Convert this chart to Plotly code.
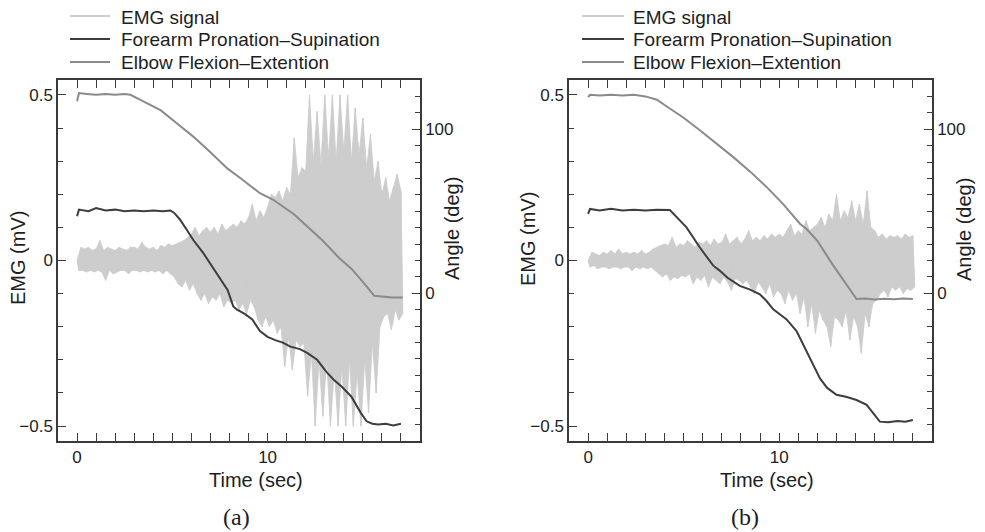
import plotly.graph_objects as go

# ---------------- data ----------------
EMG_DT = 0.1  # sampling step of the listed EMG peaks (s)

# Panel (a) EMG peaks, mV (alternating positive / negative excursions)
emg_a = [
    0.0, -0.03, 0.04, -0.03, 0.035, -0.035, 0.04, -0.03, 0.03, -0.035,
    0.035, -0.03, 0.06, -0.035, 0.03, -0.06, 0.04, -0.03, 0.035, -0.04,
    0.03, -0.035, 0.04, -0.03, 0.035, -0.03, 0.03, -0.04, 0.04, -0.03,
    0.04, -0.03, 0.035, -0.035, 0.055, -0.03, 0.04, -0.035, 0.035, -0.03,
    0.04, -0.035, 0.03, -0.03, 0.045, -0.04, 0.04, -0.03, 0.05, -0.04,
    0.045, -0.05, 0.05, -0.07, 0.055, -0.08, 0.06, -0.06, 0.07, -0.09,
    0.08, -0.07, 0.1, -0.1, 0.075, -0.12, 0.09, -0.1, 0.1, -0.13,
    0.085, -0.11, 0.1, -0.12, 0.08, -0.1, 0.11, -0.14, 0.09, -0.12,
    0.1, -0.13, 0.11, -0.12, 0.1, -0.15, 0.12, -0.13, 0.11, -0.16,
    0.13, -0.12, 0.17, -0.14, 0.12, -0.18, 0.15, -0.2, 0.13, -0.17,
    0.16, -0.2, 0.2, -0.18, 0.19, -0.22, 0.21, -0.2, 0.18, -0.32,
    0.22, -0.23, 0.2, -0.33, 0.37, -0.24, 0.25, -0.26, 0.28, -0.25,
    0.27, -0.41, 0.5, -0.28, 0.3, -0.5, 0.45, -0.3, 0.29, -0.47,
    0.5, -0.3, 0.31, -0.5, 0.5, -0.33, 0.3, -0.5, 0.5, -0.32,
    0.33, -0.5, 0.5, -0.3, 0.3, -0.5, 0.46, -0.34, 0.32, -0.5,
    0.43, -0.3, 0.28, -0.46, 0.38, -0.25, 0.24, -0.4, 0.3, -0.2,
    0.2, -0.17, 0.25, -0.16, 0.18, -0.21, 0.22, -0.15, 0.26, -0.18,
    0.21, -0.16,
]

# Panel (b) EMG peaks, mV
emg_b = [
    0.0, -0.02, 0.025, -0.015, 0.02, -0.025, 0.015, -0.02, 0.025, -0.02,
    0.02, -0.025, 0.03, -0.02, 0.02, -0.02, 0.035, -0.025, 0.02, -0.02,
    0.025, -0.02, 0.02, -0.03, 0.025, -0.02, 0.02, -0.025, 0.03, -0.02,
    0.02, -0.025, 0.025, -0.02, 0.035, -0.03, 0.04, -0.04, 0.045, -0.05,
    0.05, -0.04, 0.045, -0.06, 0.07, -0.05, 0.04, -0.055, 0.05, -0.045,
    0.045, -0.05, 0.06, -0.04, 0.05, -0.07, 0.04, -0.05, 0.055, -0.06,
    0.05, -0.045, 0.06, -0.08, 0.045, -0.05, 0.065, -0.06, 0.05, -0.07,
    0.055, -0.05, 0.08, -0.065, 0.05, -0.09, 0.06, -0.055, 0.07, -0.06,
    0.05, -0.07, 0.065, -0.06, 0.09, -0.08, 0.06, -0.1, 0.07, -0.065,
    0.06, -0.08, 0.075, -0.1, 0.065, -0.07, 0.08, -0.11, 0.07, -0.09,
    0.08, -0.1, 0.07, -0.13, 0.09, -0.09, 0.11, -0.12, 0.075, -0.1,
    0.09, -0.16, 0.08, -0.11, 0.12, -0.2, 0.09, -0.13, 0.1, -0.22,
    0.11, -0.15, 0.13, -0.18, 0.1, -0.2, 0.14, -0.26, 0.12, -0.17,
    0.2, -0.18, 0.12, -0.2, 0.15, -0.15, 0.13, -0.24, 0.18, -0.17,
    0.12, -0.2, 0.17, -0.28, 0.11, -0.16, 0.21, -0.2, 0.1, -0.13,
    0.09, -0.12, 0.07, -0.1, 0.08, -0.09, 0.065, -0.11, 0.075, -0.08,
    0.07, -0.09, 0.075, -0.08, 0.065, -0.1, 0.08, -0.085, 0.07, -0.09,
    0.075, -0.08,
]

# Panel (a) joint angles (deg)
fore_a_t = [0.0, 0.1, 0.6, 1.0, 1.5, 2.0, 2.5, 3.0, 3.5, 4.0, 4.5, 4.9, 5.1, 5.4,
            5.8, 6.1, 6.6, 7.2, 7.9, 8.2, 8.4, 8.8, 9.2, 9.6, 10.0, 10.4, 10.8,
            11.2, 11.7, 12.1, 12.6, 13.1, 13.5, 13.9, 14.4, 14.9, 15.2, 15.5,
            15.8, 16.2, 16.6, 17.0]
fore_a = [47, 51, 50, 52, 50.5, 51, 50, 50.5, 50, 50.5, 50, 50.5, 49, 45,
          38, 32.5, 25, 14, 2, -8, -10, -12.5, -16, -23, -26.5, -28.5, -30,
          -32.5, -34, -36.5, -40.5, -48, -53, -57, -63, -73, -78, -79.5,
          -80, -79.5, -80.5, -79.5]

elb_a_t = [0.0, 0.1, 0.5, 1.0, 1.5, 2.0, 2.5, 2.8, 3.3, 3.8, 4.4, 5.2, 6.1, 7.0,
           7.9, 8.6, 9.6, 10.3, 11.4, 12.1, 12.9, 13.8, 14.4, 15.0, 15.6, 16.0,
           16.5, 17.1]
elb_a = [117, 122, 121.5, 121, 121.5, 121, 121.5, 121, 118, 115, 111.5, 104,
         95.5, 86, 76, 70, 61, 57, 48, 40.6, 32, 21, 15, 7, -1.5, -2, -2.5, -2.5]

# Panel (b) joint angles (deg)
fore_b_t = [0.0, 0.1, 0.6, 1.2, 1.8, 2.4, 3.0, 3.6, 4.28, 4.6, 5.15, 5.85, 6.54,
            6.9, 7.3, 7.94, 8.45, 8.99, 9.34, 9.69, 10.39, 10.91, 11.43, 11.78,
            12.13, 12.5, 13.0, 13.5, 14.05, 14.58, 14.9, 15.27, 15.7, 16.2,
            16.6, 17.0]
fore_b = [48.4, 51.4, 50.5, 51.5, 50.5, 51, 50.5, 51, 50.8, 47, 40.2, 27.9, 17,
          13.7, 9.5, 4.5, 2.4, -0.6, -4.7, -9.8, -15.9, -23, -35.3, -43, -51.7,
          -57.5, -61.8, -63, -65, -68, -73, -78.2, -78.5, -77.8, -78.3, -77.2]

elb_b_t = [0.0, 0.1, 0.6, 1.2, 1.8, 2.4, 3.0, 3.6, 4.1, 5.0, 5.85, 6.7, 7.6, 8.5,
           9.35, 10.2, 11.1, 11.45, 12.0, 12.8, 13.5, 14.05, 14.5, 15.0, 15.5,
           16.0, 16.5, 17.0]
elb_b = [119.5, 121, 120.5, 121, 120.5, 121, 120, 118, 114, 107, 99.4, 91.5, 83,
         74, 64.7, 54.5, 42.3, 39, 32, 17.5, 6, -3.5, -3.2, -3.8, -3.3, -3.6,
         -3.2, -3.5]

SERIES = ["EMG signal", "Forearm Pronation\u2013Supination", "Elbow Flexion\u2013Extention"]
X_TICKS = [0, 10]
EMG_TICKS = [-0.5, 0, 0.5]
EMG_TICKTEXT = ["\u22120.5", "0", "0.5"]
ANG_TICKS = [0, 100]

# ---------------- styling ----------------
C_EMG = "#cdcdcd"
C_FORE = "#3d3d3d"
C_ELB = "#8a8a8a"
COLORS = [C_EMG, C_FORE, C_ELB]
AX = "#3a3a3a"
TXT = "#1e1e1e"
SANS = "Liberation Sans, Arial, sans-serif"
SERIF = "Liberation Serif, Times New Roman, serif"

OFF = 8            # page body margin of the browser
W, H = 985 - OFF, 532 - OFF
def px(xp):
    return (xp - OFF) / W
def py(yp):
    return 1 - (yp - OFF) / H

fig = go.Figure()

panels = [
    dict(emg=emg_a, ft=fore_a_t, f=fore_a, et=elb_a_t, e=elb_a,
         xa="x", ya="y", ya2="y2"),
    dict(emg=emg_b, ft=fore_b_t, f=fore_b, et=elb_b_t, e=elb_b,
         xa="x2", ya="y3", ya2="y4"),
]
for p in panels:
    t = [i * EMG_DT for i in range(len(p["emg"]))]
    # dense EMG burst: band between the positive and the negative excursions
    fig.add_trace(go.Scatter(x=t[0::2], y=p["emg"][0::2], mode="lines",
                             line=dict(color=C_EMG, width=0.8, simplify=False),
                             showlegend=False, hoverinfo="skip",
                             xaxis=p["xa"], yaxis=p["ya"]))
    fig.add_trace(go.Scatter(x=t[1::2], y=p["emg"][1::2], mode="lines",
                             line=dict(color=C_EMG, width=0.8, simplify=False),
                             fill="tonexty", fillcolor=C_EMG,
                             showlegend=False, hoverinfo="skip",
                             xaxis=p["xa"], yaxis=p["ya"]))
    fig.add_trace(go.Scatter(x=t, y=p["emg"], mode="lines", name=SERIES[0],
                             line=dict(color=C_EMG, width=1.0, simplify=False),
                             showlegend=False,
                             xaxis=p["xa"], yaxis=p["ya"]))
    fig.add_trace(go.Scatter(x=p["ft"], y=p["f"], mode="lines", name=SERIES[1],
                             line=dict(color=C_FORE, width=2), showlegend=False,
                             xaxis=p["xa"], yaxis=p["ya2"]))
    fig.add_trace(go.Scatter(x=p["et"], y=p["e"], mode="lines", name=SERIES[2],
                             line=dict(color=C_ELB, width=2), showlegend=False,
                             xaxis=p["xa"], yaxis=p["ya2"]))

tickfont = dict(family=SANS, size=17, color=TXT)

def xaxis(domain, anchor):
    return dict(domain=domain, anchor=anchor, range=[-1, 18],
                tickvals=X_TICKS, ticks="inside", ticklen=8, tickwidth=1.3,
                tickcolor=AX, showline=True, linecolor=AX, linewidth=1.5,
                mirror="allticks", showgrid=False, zeroline=False,
                tickfont=tickfont,
                minor=dict(dtick=1, ticks="inside", ticklen=5, tickwidth=1.2,
                           tickcolor=AX, showgrid=False))

def yaxis_left(domain, anchor):
    return dict(domain=domain, anchor=anchor, range=[-0.545, 0.545],
                tickvals=EMG_TICKS, ticktext=EMG_TICKTEXT, ticks="inside",
                ticklen=8, tickwidth=1.3, tickcolor=AX, showline=True,
                linecolor=AX, linewidth=1.5, mirror=False, showgrid=False,
                zeroline=False, tickfont=tickfont,
                minor=dict(dtick=0.1, tick0=0, ticks="inside", ticklen=5,
                           tickwidth=1.2, tickcolor=AX, showgrid=False))

def yaxis_right(overlay, anchor):
    return dict(overlaying=overlay, anchor=anchor, side="right",
                range=[-90, 130], tickvals=ANG_TICKS, ticks="inside",
                ticklen=8, tickwidth=1.3, tickcolor=AX, showline=True,
                linecolor=AX, linewidth=1.5, showgrid=False, zeroline=False,
                tickfont=tickfont,
                minor=dict(dtick=10, tick0=0, ticks="inside", ticklen=5,
                           tickwidth=1.2, tickcolor=AX, showgrid=False))

ydom = [py(441), py(80)]

fig.update_layout(
    width=W, height=H, autosize=False,
    margin=dict(l=0, r=0, t=0, b=0),
    paper_bgcolor="white", plot_bgcolor="white",
    showlegend=False,
    xaxis=xaxis([px(58), px(420)], "y"),
    yaxis=yaxis_left(ydom, "x"),
    yaxis2=yaxis_right("y", "x"),
    xaxis2=xaxis([px(569), px(932)], "y3"),
    yaxis3=yaxis_left(ydom, "x2"),
    yaxis4=yaxis_right("y3", "x2"),
)

ann = []
shapes = []
def add_text(text, x, y, size=20, angle=0, family=SANS, anchor="center"):
    ann.append(dict(text=text, x=px(x), y=py(y), xref="paper", yref="paper",
                    showarrow=False, xanchor=anchor, yanchor="middle",
                    textangle=angle, font=dict(family=family, size=size, color=TXT)))

# legends (one above each panel)
LEG_ROWS = [16, 39, 62]
for x0, x1, xt in [(70, 110, 123), (582, 624, 635)]:
    for name, col, yr in zip(SERIES, COLORS, LEG_ROWS):
        shapes.append(dict(type="line", xref="paper", yref="paper",
                           x0=px(x0), x1=px(x1), y0=py(yr), y1=py(yr),
                           line=dict(color=col, width=2)))
        add_text(name, xt - 4, yr + 1, size=19, anchor="left")

add_text("EMG (mV)", 18, 258, angle=-90)
add_text("EMG (mV)", 528, 239, angle=-90)
add_text("Angle (deg)", 452, 229, angle=-90)
add_text("Angle (deg)", 964, 230, angle=-90)
add_text("Time (sec)", 256, 480)
add_text("Time (sec)", 767, 480)
add_text("(a)", 236, 517, size=24, family=SERIF)
add_text("(b)", 745, 517, size=24, family=SERIF)
fig.update_layout(annotations=ann, shapes=shapes)

fig.write_html("out.html")
